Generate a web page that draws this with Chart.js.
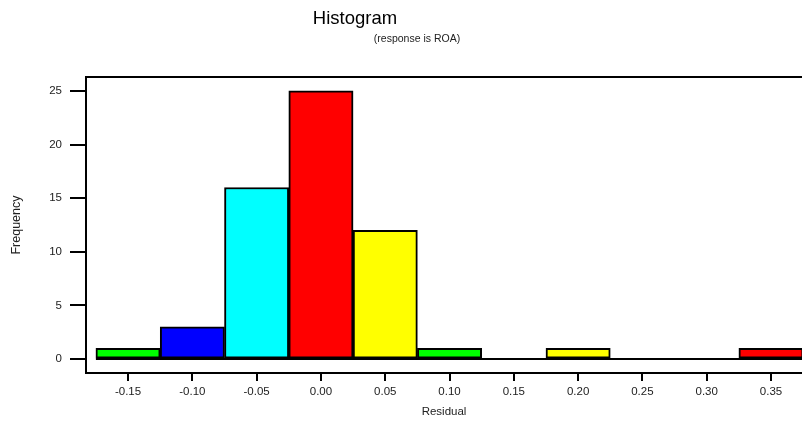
<!DOCTYPE html>
<html lang="en">
<head>
    <meta charset="UTF-8">
    <title>Histogram</title>
    <script src="https://cdn.jsdelivr.net/npm/chart.js"></script>
    <style>
        body { margin: 0; background: #fff; }
        #chartContainer { position: relative; width: 802px; height: 421px; }
    </style>
</head>
<body>
<div id="chartContainer">
    <canvas id="chartCanvas"></canvas>
</div>
<script>
    // histogram data (bin centres and counts)
    let binCenters = [-0.15, -0.10, -0.05, 0.00, 0.05, 0.10, 0.15, 0.20, 0.25, 0.30, 0.35];
    let counts = [1, 3, 16, 25, 12, 1, 0, 1, 0, 0, 1];
    let binColors = ["#00ff00", "#0000ff", "#00ffff", "#ff0000", "#ffff00", "#00ff00", "#ff00ff", "#ffff00", "#00ffff", "#0000ff", "#ff0000"];
    let binWidth = 0.05;
    let xTickValues = [-0.15, -0.10, -0.05, 0.00, 0.05, 0.10, 0.15, 0.20, 0.25, 0.30, 0.35];
    let yTickValues = [0, 5, 10, 15, 20, 25];

    let titleText = "Histogram";
    let subtitleText = "(response is ROA)";
    let font = "'Liberation Sans', Arial, sans-serif";

    let barData = binCenters.map((c, i) => ({ x: c, y: counts[i] }));
    let baseline = [
        { x: binCenters[0] - binWidth / 2, y: 0 },
        { x: binCenters[binCenters.length - 1] + binWidth / 2, y: 0 }
    ];

    // titles drawn at their spot above the frame
    const titlePlugin = {
        id: "titles",
        afterDraw(chart) {
            let ctx = chart.ctx;
            ctx.save();
            ctx.fillStyle = "#000";
            ctx.textAlign = "center";
            ctx.textBaseline = "middle";
            ctx.font = "18.5px " + font;
            ctx.fillText(titleText, 355, 19);
            ctx.font = "10.5px " + font;
            ctx.fillStyle = "#222";
            ctx.fillText(subtitleText, 417, 39);
            ctx.restore();
        }
    };

    let ctx = document.getElementById("chartCanvas").getContext("2d");
    let chart = new Chart(ctx, {
        type: "bar",
        data: {
            datasets: [
                {
                    type: "line",
                    data: baseline,
                    borderColor: "#000",
                    borderWidth: 2,
                    pointRadius: 0,
                    order: 0
                },
                {
                    data: barData,
                    backgroundColor: binColors,
                    borderColor: "#000",
                    borderWidth: 2,
                    borderSkipped: false,
                    barPercentage: 1,
                    categoryPercentage: 1,
                    order: 1
                }
            ]
        },
        options: {
            responsive: true,
            maintainAspectRatio: false,
            animation: false,
            layout: { padding: { top: 77, left: 0, right: 0, bottom: 0 } },
            plugins: {
                legend: { display: false },
                tooltip: { enabled: false }
            },
            scales: {
                x: {
                    type: "linear",
                    position: "bottom",
                    min: -0.1827,
                    max: 0.3741,
                    offset: false,
                    afterBuildTicks: (s) => { s.ticks = xTickValues.map(v => ({ value: v })); },
                    afterFit: (s) => { s.height = 48; },
                    grid: {
                        offset: false,
                        drawOnChartArea: false,
                        tickLength: 8,
                        color: "#000",
                        lineWidth: 2
                    },
                    border: { display: true, color: "#000", width: 2 },
                    ticks: {
                        padding: 4,
                        color: "#222",
                        font: { family: font, size: 11.5 },
                        maxRotation: 0,
                        callback: (v) => Number(v).toFixed(2)
                    },
                    title: {
                        display: true,
                        text: "Residual",
                        color: "#222",
                        font: { family: font, size: 11.5 },
                        padding: { top: 0, bottom: 2 }
                    }
                },
                x2: {
                    type: "linear",
                    position: "top",
                    min: -0.1827,
                    max: 0.3741,
                    offset: false,
                    afterFit: (s) => { s.height = 0; },
                    grid: { display: true, drawOnChartArea: false, drawTicks: false },
                    border: { display: true, color: "#000", width: 2 },
                    ticks: { display: false }
                },
                y: {
                    min: -1.3,
                    max: 26.3,
                    afterBuildTicks: (s) => { s.ticks = yTickValues.map(v => ({ value: v })); },
                    afterFit: (s) => { s.width = 86; },
                    grid: {
                        drawOnChartArea: false,
                        tickLength: 16,
                        color: "#000",
                        lineWidth: 2
                    },
                    border: { display: true, color: "#000", width: 2 },
                    ticks: {
                        padding: 8,
                        color: "#222",
                        font: { family: font, size: 11.5 }
                    },
                    title: {
                        display: true,
                        text: "Frequency",
                        color: "#222",
                        font: { family: font, size: 12.5 },
                        padding: { top: 9, bottom: 0 }
                    }
                }
            }
        },
        plugins: [titlePlugin]
    });
</script>
</body>
</html>
